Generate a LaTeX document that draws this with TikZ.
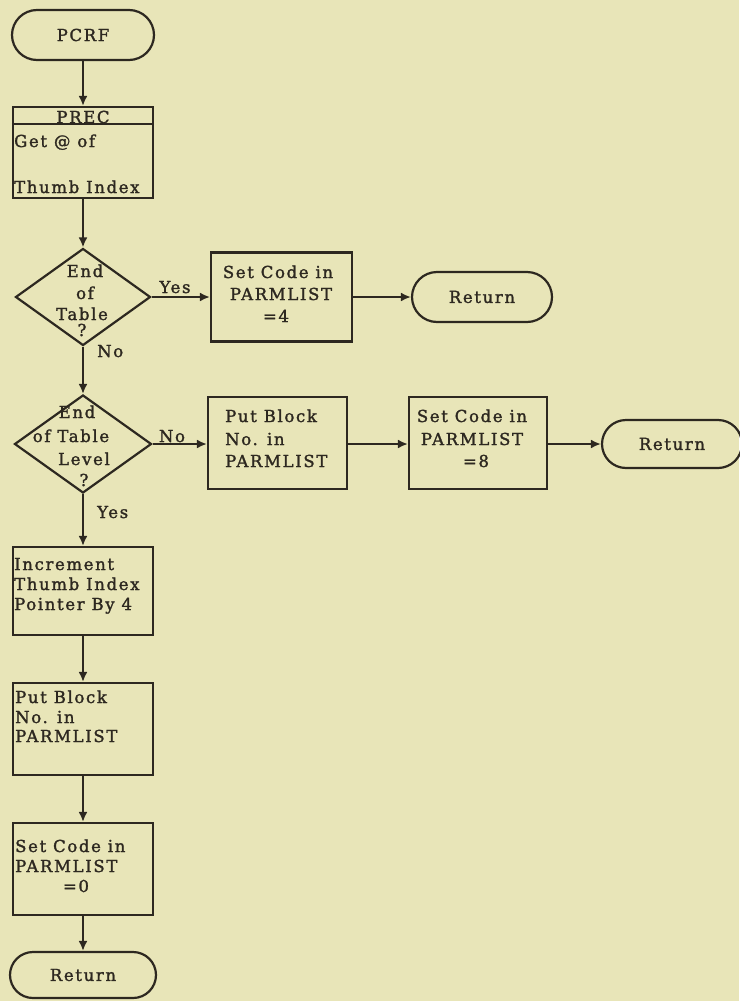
\documentclass[tikz,border=0pt]{standalone}
\usepackage{fontspec}
\setmainfont{DejaVu Serif}
\newfontfamily\chartfont{DejaVu Serif}[LetterSpace=10,FakeBold=1.6]
\usetikzlibrary{shapes.geometric,arrows.meta}
\definecolor{paper}{RGB}{232,229,184}
\definecolor{ink}{RGB}{45,40,32}
\tikzset{
  line/.style={draw=ink,line width=2.2pt},
  flow/.style={line,-{Latex[length=10pt,width=9pt]}},
  proc/.style={line,rectangle,minimum width=140pt,minimum height=91pt,inner sep=0pt},
  term/.style={line,rectangle,rounded corners=24pt,minimum width=140pt,minimum height=48pt,
    inner sep=0pt,text=ink,font=\chartfont\fontsize{16.5}{20}\selectfont},
  decision/.style={line,diamond,minimum width=136pt,minimum height=97pt,inner sep=0pt},
  txt/.style={inner sep=0pt,text=ink,font=\chartfont\fontsize{16.5}{20}\selectfont},
}
\begin{document}
\begin{tikzpicture}[x=1pt,y=-1pt]
\fill[paper] (0,0) rectangle (739,1001);
\useasboundingbox (0,0) rectangle (739,1001);

% main column
\node[term,minimum width=142pt,minimum height=50pt,rounded corners=25pt] (pcrf) at (83,35) {PCRF};
\node[proc] (prec) at (83,152.5) {};
\path (prec.north west) ++(0,18) coordinate (hdr);
\draw[line] (hdr) -- (hdr -| prec.east);
\node[txt,anchor=base] (prect) at (83,123) {PREC};
\node[txt,anchor=base west] (prec1) at (14,147) {Get @ of};
\node[txt,anchor=base west] (prec2) at (14,193) {Thumb Index};

\node[decision,minimum width=135pt] (d1) at (83,297) {};
\foreach \s/\x/\y [count=\i] in {End/85/277, of/85/299, Table/82/320, ?/82/336}
  \node[txt,anchor=base] (d1l\i) at (\x,\y) {\s};

\node[decision,minimum width=137pt,minimum height=98pt] (d2) at (83,444) {};
\foreach \s/\x/\y [count=\i] in {End/77/418, of Table/71/442, Level/84/465, ?/84/486}
  \node[txt,anchor=base] (d2l\i) at (\x,\y) {\s};

\node[proc,minimum height=88pt] (inc) at (83,591) {};
\foreach \s/\y [count=\i] in {Increment/570, Thumb Index/590, Pointer By 4/610}
  \node[txt,anchor=base west] (incl\i) at (14,\y) {\s};

\node[proc,minimum height=92pt] (put) at (83,729) {};
\foreach \s/\y [count=\i] in {Put Block/703, No. in/723, PARMLIST/742}
  \node[txt,anchor=base west] (putl\i) at (15,\y) {\s};

\node[proc,minimum height=92pt] (set0) at (83,869) {};
\node[txt,anchor=base west] (set0a) at (15,852) {Set Code in};
\node[txt,anchor=base west] (set0b) at (15,872) {PARMLIST};
\node[txt,anchor=base] (set0c) at (76,892) {=0};

\node[term,minimum width=146pt,minimum height=46pt,rounded corners=23pt] (ret) at (83,975) {Return};

% first branch
\node[proc,minimum width=141pt,minimum height=89pt] (b1) at (281.5,297) {};
\foreach \s/\x/\y [count=\i] in {Set Code in/278/278, PARMLIST/281/300, =4/276/322}
  \node[txt,anchor=base] (b1l\i) at (\x,\y) {\s};
\node[term,minimum height=50pt,rounded corners=25pt] (r1) at (482,297) {Return};

% second branch
\node[proc,minimum width=139pt,minimum height=92pt] (b2) at (277.5,443) {};
\foreach \s/\y [count=\i] in {Put Block/422, No. in/445, PARMLIST/467}
  \node[txt,anchor=base west] (b2l\i) at (225,\y) {\s};
\node[proc,minimum width=138pt,minimum height=92pt] (b3) at (478,443) {};
\foreach \s/\x/\y [count=\i] in {Set Code in/472/422, PARMLIST/472/445, =8/476/467}
  \node[txt,anchor=base] (b3l\i) at (\x,\y) {\s};
\node[term] (r2) at (672,444) {Return};

% connectors
\draw[flow] (pcrf) -- (prec);
\draw[flow] (prec) -- (d1);
\draw[flow] (d1.east) -- (d1.east -| b1.west);
\draw[flow] (b1.east |- d1.east) -- (r1.west);
\draw[flow] (d1) -- (d2);
\draw[flow] (d2.east) -- (d2.east -| b2.west);
\draw[flow] (b2.east |- d2.east) -- (d2.east -| b3.west);
\draw[flow] (b3.east |- d2.east) -- (r2.west);
\draw[flow] (d2) -- (inc);
\draw[flow] (inc) -- (put);
\draw[flow] (put) -- (set0);
\draw[flow] (set0) -- (ret);

% branch labels
\node[txt,anchor=base] (yes1) at (175,293) {Yes};
\node[txt,anchor=base west] (no1) at (97,357) {No};
\node[txt,anchor=base] (no2) at (172,442) {No};
\node[txt,anchor=base west] (yes2) at (97,518) {Yes};
\end{tikzpicture}
\end{document}
